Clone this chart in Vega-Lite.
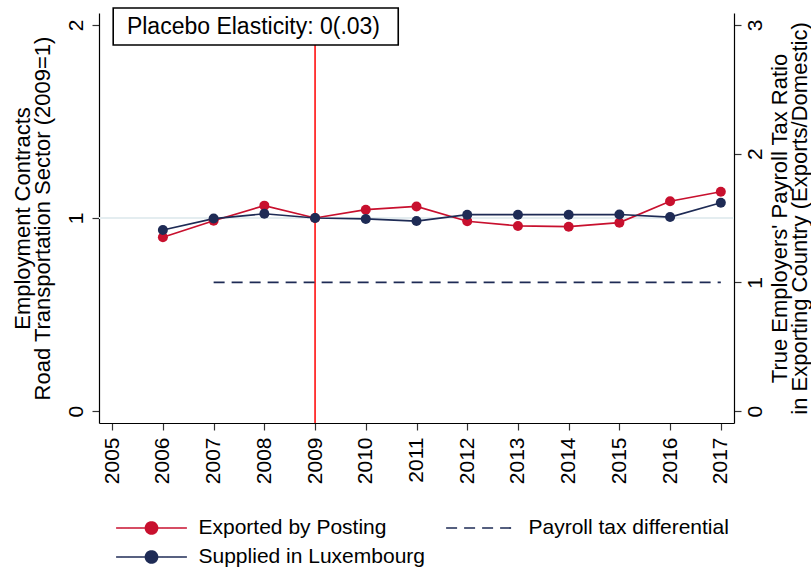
{
  "$schema": "https://vega.github.io/schema/vega-lite/v6.json",
  "width": 635,
  "height": 410,
  "autosize": {"type": "none"},
  "padding": {"left": 99, "top": 13, "right": 77, "bottom": 149},
  "background": "white",
  "config": {
    "view": {"stroke": null},
    "font": "Liberation Sans",
    "axis": {
      "labelFont": "Liberation Sans",
      "titleFont": "Liberation Sans",
      "labelColor": "black",
      "titleColor": "black",
      "titleFontWeight": "normal",
      "domainColor": "black",
      "domainWidth": 1.2,
      "tickColor": "#333333",
      "tickWidth": 1.2,
      "tickSize": 7,
      "grid": false
    }
  },
  "layer": [
    {
      "layer": [
        {
          "data": {"values": [{"ref": 1}]},
          "mark": {"type": "rule", "color": "#e4edf0", "strokeWidth": 2},
          "encoding": {"y": {"field": "ref", "type": "quantitative"}}
        },
        {
          "data": {"values": [{"event": 2009}]},
          "mark": {"type": "rule", "color": "#ff1010", "strokeWidth": 1.6},
          "encoding": {"x": {"field": "event", "type": "quantitative"}}
        },
        {
          "data": {
            "values": [
              {"series": "Exported by Posting", "year": 2006, "value": 0.900},
              {"series": "Exported by Posting", "year": 2007, "value": 0.986},
              {"series": "Exported by Posting", "year": 2008, "value": 1.064},
              {"series": "Exported by Posting", "year": 2009, "value": 1.000},
              {"series": "Exported by Posting", "year": 2010, "value": 1.043},
              {"series": "Exported by Posting", "year": 2011, "value": 1.060},
              {"series": "Exported by Posting", "year": 2012, "value": 0.983},
              {"series": "Exported by Posting", "year": 2013, "value": 0.959},
              {"series": "Exported by Posting", "year": 2014, "value": 0.955},
              {"series": "Exported by Posting", "year": 2015, "value": 0.976},
              {"series": "Exported by Posting", "year": 2016, "value": 1.087},
              {"series": "Exported by Posting", "year": 2017, "value": 1.136},
              {"series": "Supplied in Luxembourg", "year": 2006, "value": 0.938},
              {"series": "Supplied in Luxembourg", "year": 2007, "value": 0.997},
              {"series": "Supplied in Luxembourg", "year": 2008, "value": 1.022},
              {"series": "Supplied in Luxembourg", "year": 2009, "value": 1.000},
              {"series": "Supplied in Luxembourg", "year": 2010, "value": 0.995},
              {"series": "Supplied in Luxembourg", "year": 2011, "value": 0.984},
              {"series": "Supplied in Luxembourg", "year": 2012, "value": 1.017},
              {"series": "Supplied in Luxembourg", "year": 2013, "value": 1.017},
              {"series": "Supplied in Luxembourg", "year": 2014, "value": 1.017},
              {"series": "Supplied in Luxembourg", "year": 2015, "value": 1.018},
              {"series": "Supplied in Luxembourg", "year": 2016, "value": 1.005},
              {"series": "Supplied in Luxembourg", "year": 2017, "value": 1.079}
            ]
          },
          "mark": {"type": "line", "strokeWidth": 1.7, "point": {"filled": true, "size": 100, "opacity": 1}},
          "encoding": {
            "x": {
              "field": "year",
              "type": "quantitative",
              "title": null,
              "scale": {"domain": [2004.74, 2017.26], "nice": false, "zero": false},
              "axis": {
                "values": [2005, 2006, 2007, 2008, 2009, 2010, 2011, 2012, 2013, 2014, 2015, 2016, 2017],
                "format": "d",
                "labelAngle": -90,
                "labelAlign": "right",
                "labelBaseline": "middle",
                "labelFontSize": 21,
                "labelPadding": 7,
                "labelOverlap": false,
                "labelFlush": false
              }
            },
            "y": {
              "field": "value",
              "type": "quantitative",
              "scale": {"domain": [-0.062, 2.062], "nice": false, "zero": false},
              "axis": {
                "orient": "left",
                "values": [0, 1, 2],
                "format": "d",
                "labelAngle": -90,
                "labelAlign": "center",
                "labelBaseline": "middle",
                "labelFontSize": 21,
                "labelPadding": 16,
                "title": ["Employment Contracts", "Road Transportation Sector (2009=1)"],
                "titleFontSize": 22,
                "titleLineHeight": 20,
                "titleAngle": -90,
                "titleAlign": "center",
                "titleBaseline": "middle",
                "titleX": -77,
                "titleY": 205
              }
            },
            "color": {
              "field": "series",
              "type": "nominal",
              "scale": {
                "domain": ["Exported by Posting", "Payroll tax differential", "Supplied in Luxembourg"],
                "range": ["#c8102e", "#1e2b55", "#1e2b55"]
              },
              "legend": {
                "orient": "none",
                "legendX": 17,
                "legendY": 502,
                "columns": 2,
                "direction": "horizontal",
                "title": null,
                "labelFont": "Liberation Sans",
                "labelFontSize": 21,
                "labelColor": "black",
                "labelLimit": 400,
                "symbolSize": 576,
                "symbolStrokeWidth": 1.7,
                "symbolOffset": 22.5,
                "labelOffset": 34,
                "columnPadding": 17,
                "rowPadding": 6,
                "symbolType": "M-2.95,0H2.95",
                "encode": {
                  "symbols": {
                    "update": {
                      "shape": {"signal": "datum.value === 'Payroll tax differential' ? 'M-2.95,0H2.95' : 'M-2.95,0H2.95M-0.5,0A0.5,0.5 0 1,0 0.5,0A0.5,0.5 0 1,0 -0.5,0Z'"},
                      "strokeDash": {"signal": "datum.value === 'Payroll tax differential' ? [11, 7] : [1, 0]"},
                      "fill": {"signal": "datum.value === 'Exported by Posting' ? '#c8102e' : '#1e2b55'"},
                      "stroke": {"signal": "datum.value === 'Exported by Posting' ? '#c8102e' : '#1e2b55'"},
                      "fillOpacity": {"value": 1},
                      "opacity": {"value": 1}
                    }
                  }
                }
              }
            }
          }
        },
        {
          "data": {"values": [{"x0": 2005.02, "x1": 2010.64, "y0": 2.088, "y1": 1.896}]},
          "mark": {"type": "rect", "fill": "white", "stroke": "black", "strokeWidth": 1.6},
          "encoding": {
            "x": {"field": "x0", "type": "quantitative"},
            "x2": {"field": "x1"},
            "y": {"field": "y0", "type": "quantitative"},
            "y2": {"field": "y1"}
          }
        },
        {
          "data": {"values": [{"label": "Placebo Elasticity: 0(.03)", "x": 2005.29, "y": 1.99}]},
          "mark": {"type": "text", "align": "left", "baseline": "middle", "fontSize": 23, "font": "Liberation Sans", "color": "black"},
          "encoding": {
            "x": {"field": "x", "type": "quantitative"},
            "y": {"field": "y", "type": "quantitative"},
            "text": {"field": "label"}
          }
        }
      ]
    },
    {
      "data": {
        "values": [
          {"series": "Payroll tax differential", "year": 2007, "ratio": 1},
          {"series": "Payroll tax differential", "year": 2008, "ratio": 1},
          {"series": "Payroll tax differential", "year": 2009, "ratio": 1},
          {"series": "Payroll tax differential", "year": 2010, "ratio": 1},
          {"series": "Payroll tax differential", "year": 2011, "ratio": 1},
          {"series": "Payroll tax differential", "year": 2012, "ratio": 1},
          {"series": "Payroll tax differential", "year": 2013, "ratio": 1},
          {"series": "Payroll tax differential", "year": 2014, "ratio": 1},
          {"series": "Payroll tax differential", "year": 2015, "ratio": 1},
          {"series": "Payroll tax differential", "year": 2016, "ratio": 1},
          {"series": "Payroll tax differential", "year": 2017, "ratio": 1}
        ]
      },
      "mark": {"type": "line", "strokeDash": [11, 7], "strokeWidth": 1.7},
      "encoding": {
        "x": {"field": "year", "type": "quantitative", "title": null},
        "y": {
          "field": "ratio",
          "type": "quantitative",
          "scale": {"domain": [-0.093, 3.093], "nice": false, "zero": false},
          "axis": {
            "orient": "right",
            "values": [0, 1, 2, 3],
            "labelAngle": -90,
            "labelAlign": "center",
            "labelBaseline": "middle",
            "labelFontSize": 21,
            "labelPadding": 14,
            "title": ["True Employers' Payroll Tax Ratio", "in Exporting Country (Exports/Domestic)"],
            "titleFontSize": 22,
            "titleLineHeight": 20,
            "titleAngle": -90,
            "titleAlign": "center",
            "titleBaseline": "middle",
            "titleX": 45,
            "titleY": 205
          }
        },
        "color": {"field": "series", "type": "nominal"}
      }
    }
  ],
  "resolve": {"scale": {"y": "independent"}}
}
